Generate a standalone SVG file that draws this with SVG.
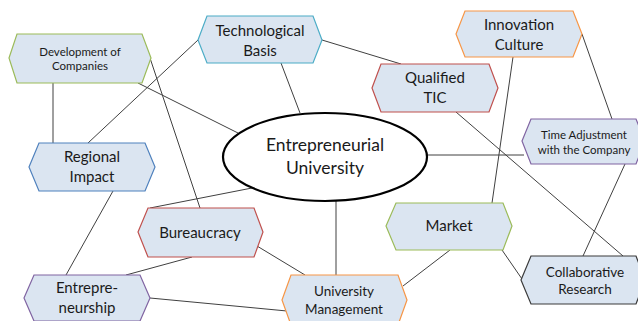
<svg xmlns="http://www.w3.org/2000/svg" width="638" height="321" viewBox="0 0 638 321">
<style>
.hex{fill:#dbe5f1;stroke-width:1.2}
.t{font-family:Lato,"Open Sans","Liberation Sans",sans-serif;fill:#1a1a1a;text-anchor:middle}
.l{font-size:15px}
.s{font-size:11.5px}
.c line{stroke:#404040;stroke-width:1}
.green{stroke:#9bbb59}.cyan{stroke:#4bacc6}.orange{stroke:#f79646}.red{stroke:#c0504d}.purple{stroke:#8064a2}.blue{stroke:#4f81bd}.dark{stroke:#3a3a3a}
</style>
<rect width="638" height="321" fill="#fff"/>
<g class="c">
<line x1="53" y1="83" x2="53" y2="143"/>
<line x1="138" y1="83" x2="238" y2="133"/>
<line x1="150" y1="58" x2="200" y2="208"/>
<line x1="198" y1="40" x2="88" y2="143"/>
<line x1="281" y1="63" x2="300" y2="113"/>
<line x1="322" y1="40" x2="401" y2="64"/>
<line x1="513" y1="57" x2="492" y2="203"/>
<line x1="582" y1="34" x2="612" y2="119"/>
<line x1="456" y1="112" x2="623" y2="256"/>
<line x1="426" y1="155" x2="524" y2="155"/>
<line x1="625" y1="164" x2="583" y2="256"/>
<line x1="113" y1="191" x2="66" y2="275"/>
<line x1="252" y1="188" x2="150" y2="208"/>
<line x1="192" y1="257" x2="126" y2="275"/>
<line x1="257" y1="246" x2="305" y2="275"/>
<line x1="150" y1="298" x2="287" y2="311"/>
<line x1="336" y1="200" x2="336" y2="275"/>
<line x1="450" y1="250" x2="403" y2="286"/>
<line x1="502" y1="250" x2="522" y2="279"/>
</g>
<g id="university">
<ellipse cx="325" cy="157" rx="102" ry="44" fill="#fff" stroke="#000" stroke-width="2.2"/>
<text class="t" x="325" y="151" font-size="17.5">Entrepreneurial</text>
<text class="t" x="325" y="174" font-size="17.5">University</text>
</g>
<g id="dev">
<polygon class="hex green" points="9,58 17,34 142,34 151,58 142,83 17,83"/>
<text class="t s" x="80" y="56">Development of</text>
<text class="t s" x="80" y="70">Companies</text>
</g>
<g id="tech">
<polygon class="hex cyan" points="198,40 207,16 313,16 322,40 313,63 207,63"/>
<text class="t l" x="260" y="36">Technological</text>
<text class="t l" x="260" y="56">Basis</text>
</g>
<g id="innov">
<polygon class="hex orange" points="456,34 465,11 573,11 582,34 573,57 465,57"/>
<text class="t l" x="519" y="30">Innovation</text>
<text class="t l" x="519" y="50">Culture</text>
</g>
<g id="qtic">
<polygon class="hex red" points="372,88 381,64 489,64 498,88 489,112 381,112"/>
<text class="t l" x="435" y="83">Qualified</text>
<text class="t l" x="435" y="103">TIC</text>
</g>
<g id="time">
<polygon class="hex purple" points="522,141 531,119 636,119 645,141 636,164 531,164"/>
<text class="t s" x="584" y="139">Time Adjustment</text>
<text class="t s" x="584" y="154">with the Company</text>
</g>
<g id="regional">
<polygon class="hex blue" points="29,167 39,143 145,143 155,167 145,191 39,191"/>
<text class="t l" x="92" y="162">Regional</text>
<text class="t l" x="92" y="182">Impact</text>
</g>
<g id="bureau">
<polygon class="hex red" points="138,232 148,208 254,208 263,232 254,257 148,257"/>
<text class="t l" x="200" y="238">Bureaucracy</text>
</g>
<g id="entre">
<polygon class="hex purple" points="24,298 34,275 140,275 150,298 140,321 34,321"/>
<text class="t l" x="87" y="293">Entrepre-</text>
<text class="t l" x="87" y="313">neurship</text>
</g>
<g id="umgmt">
<polygon class="hex orange" points="282,300 291,275 398,275 407,300 398,325 291,325"/>
<text class="t" font-size="13.5" x="344" y="296">University</text>
<text class="t" font-size="13.5" x="344" y="314">Management</text>
</g>
<g id="market">
<polygon class="hex green" points="386,226 396,203 503,203 512,226 503,250 396,250"/>
<text class="t l" x="449" y="231">Market</text>
</g>
<g id="collab">
<polygon class="hex dark" points="521,280 531,256 636,256 645,280 636,304 531,304"/>
<text class="t" font-size="13.5" x="585" y="277">Collaborative</text>
<text class="t" font-size="13.5" x="585" y="294">Research</text>
</g>
</svg>
